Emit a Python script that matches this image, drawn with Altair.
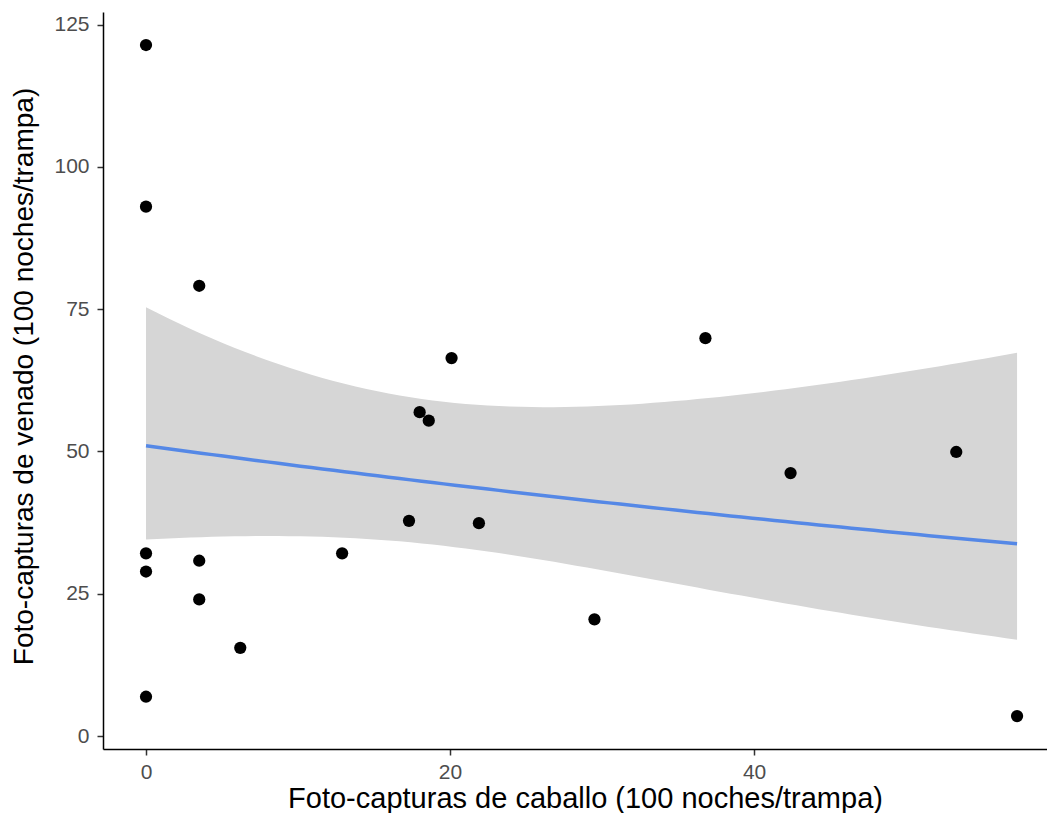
import altair as alt
import numpy as np
import pandas as pd

# Horse photo-captures (x) and deer photo-captures (y), per 100 trap-nights
caballo = [0.0, 0.0, 3.5, 20.1, 36.8, 18.0, 18.6, 53.3, 42.4, 17.3,
           21.9, 0.0, 12.9, 0.0, 3.5, 3.5, 29.5, 6.2, 0.0, 57.3]
venado = [121.4, 93.0, 79.1, 66.4, 69.9, 56.9, 55.4, 49.9, 46.2, 37.8,
          37.4, 32.1, 32.1, 28.9, 30.8, 24.0, 20.5, 15.5, 6.9, 3.5]

x_ticks = [0, 20, 40]
y_ticks = [0, 25, 50, 75, 100, 125]

pts = pd.DataFrame({"caballo": caballo, "venado": venado})

# GLM with log link (Gamma family, IRLS) and 95% confidence band on link scale,
# as geom_smooth(method = "glm", method.args = list(family = Gamma(link = "log")))
xa = np.array(caballo)
ya = np.array(venado)
n = len(xa)
X = np.column_stack([np.ones(n), xa])
beta = np.array([np.log(ya.mean()), 0.0])
for _ in range(100):
    eta = X @ beta
    mu = np.exp(eta)
    z = eta + (ya - mu) / mu
    new_beta = np.linalg.solve(X.T @ X, X.T @ z)
    if np.max(np.abs(new_beta - beta)) < 1e-12:
        beta = new_beta
        break
    beta = new_beta
mu = np.exp(X @ beta)
phi = np.sum(((ya - mu) / mu) ** 2) / (n - 2)
cov = phi * np.linalg.inv(X.T @ X)
z_crit = 1.959964
xg = np.linspace(xa.min(), xa.max(), 80)
Xg = np.column_stack([np.ones_like(xg), xg])
eg = Xg @ beta
se = np.sqrt(np.einsum("ij,jk,ik->i", Xg, cov, Xg))
fit = pd.DataFrame({"x": xg, "fit": np.exp(eg),
                    "lo": np.exp(eg - z_crit * se), "hi": np.exp(eg + z_crit * se)})

W, H = 944, 737
xscale = alt.Scale(domain=[-2.83, 59.27], nice=False, zero=False)
yscale = alt.Scale(domain=[-2.28, 127.2], nice=False, zero=False)

FONT = "Liberation Sans"

xaxis = alt.Axis(values=x_ticks, grid=False, domainColor="black", domainWidth=1.5,
                 tickColor="#333333", tickWidth=1.5, tickSize=6, labelColor="#4d4d4d",
                 labelFontSize=21, labelFont=FONT, labelPadding=6,
                 title="Foto-capturas de caballo (100 noches/trampa)",
                 titleFont=FONT, titleFontSize=29, titleFontWeight="normal", titleColor="black",
                 titleX=482, titleY=58, titleAnchor="middle", titleAlign="center",
                 titleBaseline="alphabetic")
yaxis = alt.Axis(values=y_ticks, grid=False, domainColor="black", domainWidth=1.5,
                 tickColor="#333333", tickWidth=1.5, tickSize=6, labelColor="#4d4d4d",
                 labelFontSize=21, labelFont=FONT, labelPadding=8,
                 title="Foto-capturas de venado (100 noches/trampa)",
                 titleFont=FONT, titleFontSize=28, titleFontWeight="normal", titleColor="black",
                 titleX=-71, titleY=364, titleAngle=270, titleAlign="center",
                 titleBaseline="alphabetic")

band = alt.Chart(fit).mark_area(color="#d6d6d6", opacity=1).encode(
    x=alt.X("x:Q", scale=xscale, axis=xaxis),
    y=alt.Y("lo:Q", scale=yscale, axis=yaxis),
    y2="hi:Q",
)
line = alt.Chart(fit).mark_line(color="#5588E6", strokeWidth=3.5).encode(
    x=alt.X("x:Q", scale=xscale),
    y=alt.Y("fit:Q", scale=yscale),
)
points = alt.Chart(pts).mark_circle(color="black", opacity=1, size=150).encode(
    x=alt.X("caballo:Q", scale=xscale),
    y=alt.Y("venado:Q", scale=yscale),
)

chart = alt.layer(band, line, points).properties(
    width=W, height=H,
    autosize=alt.AutoSizeParams(type="none"),
    padding={"left": 103, "top": 12, "right": 0, "bottom": 64},
    background="white",
).configure_view(strokeWidth=0)

chart.save("out.html", embed_options={"renderer": "svg", "actions": False})
